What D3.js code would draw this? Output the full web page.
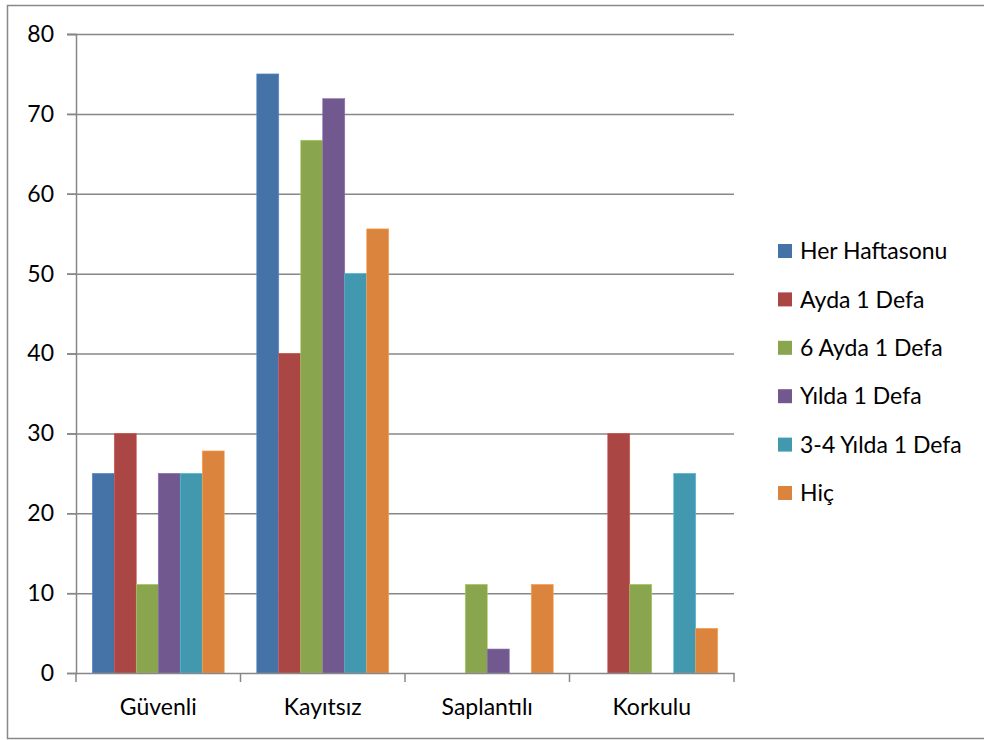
<!DOCTYPE html>
<html>
<head>
<meta charset="utf-8">
<script src="https://cdn.jsdelivr.net/npm/d3@7"></script>
<style>
  body { margin: 0; background: #fff; }
  text { font-family: Lato, "Open Sans", sans-serif; fill: #000; }
</style>
</head>
<body>
<svg id="chart" width="984" height="740"></svg>
<script>
// categories and series
var categories = ["Güvenli", "Kayıtsız", "Saplantılı", "Korkulu"];
var seriesNames = ["Her Haftasonu", "Ayda 1 Defa", "6 Ayda 1 Defa", "Yılda 1 Defa", "3-4 Yılda 1 Defa", "Hiç"];
var seriesColors = ["#4572A7", "#AA4643", "#89A54E", "#71588F", "#4198AF", "#DB843D"];

// one array per series, same order as categories
var herHaftasonu = [25, 75, 0, 0];
var aydaBir = [30, 40, 0, 30];
var altiAydaBir = [11.1, 66.7, 11.1, 11.1];
var yildaBir = [25, 71.9, 3, 0];
var ucDortYildaBir = [25, 50, 0, 25];
var hic = [27.8, 55.6, 11.1, 5.6];
var seriesValues = [herHaftasonu, aydaBir, altiAydaBir, yildaBir, ucDortYildaBir, hic];

var yTicks = [0, 10, 20, 30, 40, 50, 60, 70, 80];

var svg = d3.select("#chart");

// outer frame
svg.append("rect")
    .attr("x", 7.5).attr("y", 5.5)
    .attr("width", 1000).attr("height", 733)
    .attr("fill", "none").attr("stroke", "#888").attr("stroke-width", 1.5);

var plotLeft = 76, plotRight = 734, plotTop = 34, plotBottom = 673;
var fontSize = 23;

var x0 = d3.scaleBand().domain(categories).range([plotLeft, plotRight]).paddingInner(0).paddingOuter(0);
var x1 = d3.scaleBand().domain(seriesNames).range([0, x0.bandwidth()]).paddingOuter(0.74).paddingInner(0);
var y = d3.scaleLinear().domain([0, 80]).range([plotBottom, plotTop]);

// gridlines
svg.append("g").selectAll("line")
    .data(yTicks.filter(function (d) { return d > 0; }))
    .enter().append("line")
    .attr("x1", plotLeft - 9).attr("x2", plotRight)
    .attr("y1", function (d) { return y(d) + 0.5; })
    .attr("y2", function (d) { return y(d) + 0.5; })
    .attr("stroke", "#878787").attr("stroke-width", 1.5);

// bars
var groups = svg.append("g").selectAll("g")
    .data(categories)
    .enter().append("g")
    .attr("transform", function (c) { return "translate(" + x0(c) + ",0)"; });

groups.selectAll("rect")
    .data(function (c, i) {
        return seriesNames.map(function (s, j) { return { s: s, j: j, v: seriesValues[j][i] }; });
    })
    .enter().append("rect")
    .filter(function (d) { return d.v > 0; })
    .attr("x", function (d) { return x1(d.s); })
    .attr("y", function (d) { return y(d.v); })
    .attr("width", x1.bandwidth())
    .attr("height", function (d) { return plotBottom - y(d.v); })
    .attr("fill", function (d) { return seriesColors[d.j]; })
    .attr("stroke", function (d) { return d3.color(seriesColors[d.j]).brighter(0.6); })
    .attr("stroke-width", 0.6);

// y axis
var yAxis = svg.append("g")
    .attr("transform", "translate(" + plotLeft + ",0)")
    .call(d3.axisLeft(y).tickValues(yTicks).tickSize(9).tickPadding(13).tickFormat(d3.format("d")));
yAxis.select(".domain").attr("stroke", "#878787").attr("stroke-width", 1.5);
yAxis.selectAll(".tick line").attr("stroke", "#878787").attr("stroke-width", 1.5);
yAxis.selectAll("text").attr("font-size", fontSize).attr("font-family", "Lato, sans-serif").attr("fill", "#000");

// x axis
var xAxis = svg.append("g")
    .attr("transform", "translate(0," + plotBottom + ")")
    .call(d3.axisBottom(x0).tickSize(0).tickPadding(26));
xAxis.select(".domain").attr("stroke", "#878787").attr("stroke-width", 1.5);
xAxis.selectAll("text").attr("font-size", fontSize).attr("font-family", "Lato, sans-serif").attr("fill", "#000");

// category boundary ticks
svg.append("g").selectAll("line")
    .data(categories.concat([null]))
    .enter().append("line")
    .attr("x1", function (c) { return c === null ? plotRight : x0(c); })
    .attr("x2", function (c) { return c === null ? plotRight : x0(c); })
    .attr("y1", plotBottom).attr("y2", plotBottom + 9)
    .attr("stroke", "#878787").attr("stroke-width", 1.5);

// legend
var legend = svg.append("g").selectAll("g")
    .data(seriesNames)
    .enter().append("g")
    .attr("transform", function (d, i) { return "translate(778," + (251 + i * 48.4) + ")"; });
legend.append("rect")
    .attr("x", 0).attr("y", -7).attr("width", 14).attr("height", 14)
    .attr("fill", function (d, i) { return seriesColors[i]; });
legend.append("text")
    .attr("x", 22).attr("y", 0).attr("dy", "0.36em")
    .attr("font-size", fontSize)
    .text(function (d) { return d; });
</script>
</body>
</html>
